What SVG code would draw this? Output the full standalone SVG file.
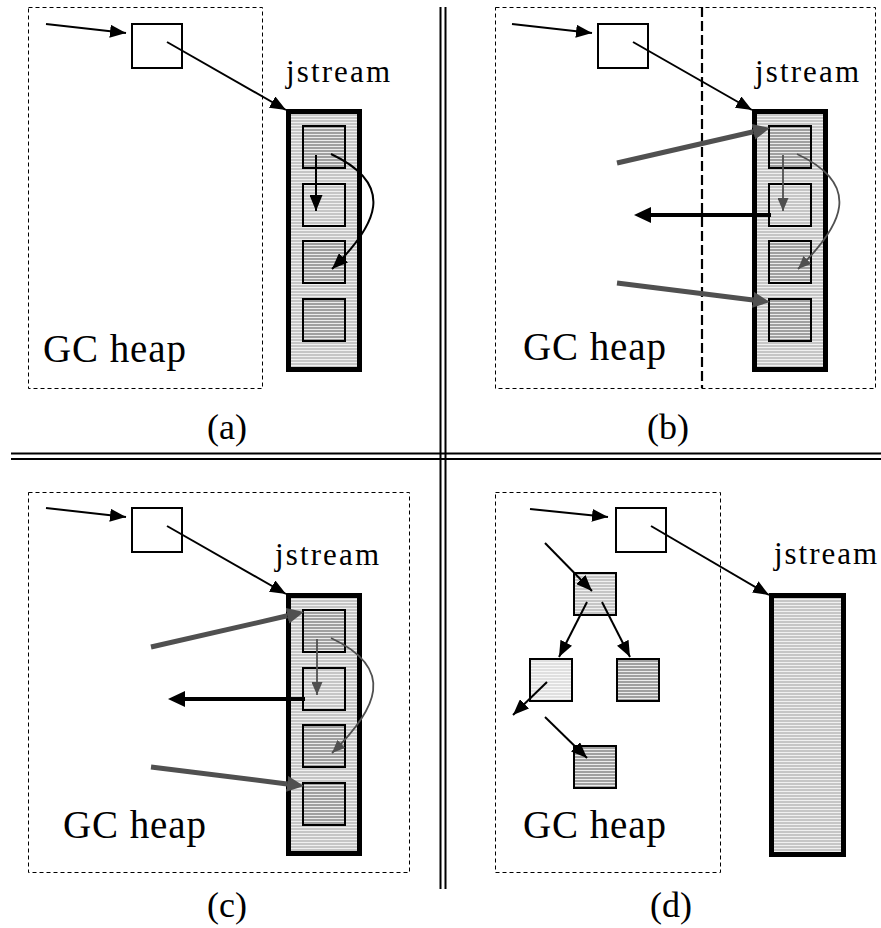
<svg xmlns="http://www.w3.org/2000/svg" width="881" height="928" viewBox="0 0 881 928">
<style>
.dash{fill:none;stroke:#000;stroke-width:1;stroke-dasharray:4 3}
.dashb{fill:none;stroke:#000;stroke-width:2.2;stroke-dasharray:10 4}
.obj{fill:#fff;stroke:#000;stroke-width:2}
.js{fill:url(#pl);stroke:#000;stroke-width:5}
.cd{fill:url(#pd);stroke:#000;stroke-width:2}
.cl{fill:url(#pl);stroke:#000;stroke-width:2}
.cv{fill:url(#pv);stroke:#000;stroke-width:2}
.a{fill:none;stroke:#000;stroke-width:2;marker-end:url(#mA)}
.g{fill:none;stroke:#505050;stroke-width:1.8;marker-end:url(#mG)}
.gt{fill:none;stroke:#505050;stroke-width:5;marker-end:url(#mGT)}
.bt{fill:none;stroke:#000;stroke-width:4;marker-end:url(#mBT)}
.sep{stroke:#000;stroke-width:2;fill:none}
text{font-family:"Liberation Serif","Times New Roman",serif;fill:#000}
.t1{font-size:31px}
.t2{font-size:39px}
.t3{font-size:36px;text-anchor:middle}
</style>
<defs>
<pattern id="pl" width="4" height="3" patternUnits="userSpaceOnUse"><rect width="4" height="3" fill="#c6c6c6"/><rect y="2" width="4" height="1" fill="#f0f0f0"/></pattern>
<pattern id="pd" width="4" height="3" patternUnits="userSpaceOnUse"><rect width="4" height="3" fill="#a0a0a0"/><rect y="2" width="4" height="1" fill="#ececec"/></pattern>
<pattern id="pv" width="4" height="3" patternUnits="userSpaceOnUse"><rect width="4" height="3" fill="#e0e0e0"/><rect y="2" width="4" height="1" fill="#f8f8f8"/></pattern>
<marker id="mA" markerUnits="userSpaceOnUse" markerWidth="16" markerHeight="13" refX="16" refY="6.5" orient="auto"><path d="M0,0 L16,6.5 L0,13 z" fill="#000"/></marker>
<marker id="mG" markerUnits="userSpaceOnUse" markerWidth="13" markerHeight="11" refX="13" refY="5.5" orient="auto"><path d="M0,0 L13,5.5 L0,11 z" fill="#505050"/></marker>
<marker id="mGT" markerUnits="userSpaceOnUse" markerWidth="17" markerHeight="16" refX="0" refY="8" orient="auto"><path d="M0,0 L17,8 L0,16 z" fill="#505050"/></marker>
<marker id="mBT" markerUnits="userSpaceOnUse" markerWidth="17" markerHeight="16" refX="0" refY="8" orient="auto"><path d="M0,0 L17,8 L0,16 z" fill="#000"/></marker>
</defs>
<rect width="881" height="928" fill="#fff"/>

<g id="separators">
<line class="sep" x1="440.5" y1="7" x2="440.5" y2="889"/>
<line class="sep" x1="445.5" y1="7" x2="445.5" y2="889"/>
<line class="sep" x1="11" y1="453.5" x2="881" y2="453.5"/>
<line class="sep" x1="11" y1="459" x2="881" y2="459"/>
</g>

<!-- Panel a -->
<g id="panel-a">
<g id="a-heap"><rect class="dash" x="28.5" y="7.5" width="234" height="381"/><text class="t2" x="43" y="362" textLength="143">GC heap</text></g>
<g id="a-root"><rect class="obj" x="132" y="24" width="50" height="44"/></g>
<g id="a-jstream"><text class="t1" x="286" y="82" textLength="104">jstream</text>
<rect class="js" x="288.5" y="111.5" width="71" height="258"/>
<rect class="cd" x="303" y="126" width="42" height="42"/>
<rect class="cl" x="303" y="184" width="42" height="42"/>
<rect class="cd" x="303" y="241" width="42" height="42"/>
<rect class="cd" x="303" y="299" width="42" height="42"/></g>
<text class="t3" x="227" y="439">(a)</text>
</g>

<!-- Panel b -->
<g id="panel-b">
<g id="b-heap"><rect class="dash" x="495.5" y="7.5" width="380" height="381"/>
<line class="dashb" x1="702" y1="7" x2="702" y2="388"/>
<text class="t2" x="523" y="360" textLength="143">GC heap</text></g>
<g id="b-root"><rect class="obj" x="598" y="24" width="50" height="44"/></g>
<g id="b-jstream"><text class="t1" x="755" y="82" textLength="104">jstream</text>
<rect class="js" x="754.5" y="111.5" width="71" height="258"/>
<rect class="cd" x="769" y="126" width="42" height="42"/>
<rect class="cl" x="769" y="184" width="42" height="42"/>
<rect class="cd" x="769" y="241" width="42" height="42"/>
<rect class="cd" x="769" y="299" width="42" height="42"/></g>
<text class="t3" x="668" y="439">(b)</text>
</g>

<!-- Panel c -->
<g id="panel-c">
<g id="c-heap"><rect class="dash" x="28.5" y="492.5" width="381" height="380"/><text class="t2" x="63" y="838" textLength="143">GC heap</text></g>
<g id="c-root"><rect class="obj" x="132" y="508" width="50" height="44"/></g>
<g id="c-jstream"><text class="t1" x="275" y="565" textLength="104">jstream</text>
<rect class="js" x="288.5" y="595.5" width="71" height="258"/>
<rect class="cd" x="303" y="610" width="42" height="42"/>
<rect class="cl" x="303" y="668" width="42" height="42"/>
<rect class="cd" x="303" y="725" width="42" height="42"/>
<rect class="cd" x="303" y="783" width="42" height="42"/></g>
<text class="t3" x="227" y="917">(c)</text>
</g>

<!-- Panel d -->
<g id="panel-d">
<g id="d-heap"><rect class="dash" x="495.5" y="492.5" width="225" height="380"/><text class="t2" x="523" y="838" textLength="143">GC heap</text></g>
<g id="d-root"><rect class="obj" x="616" y="508" width="50" height="44"/></g>
<g id="d-obj1"><rect class="cl" x="574" y="573" width="42" height="42"/></g>
<g id="d-obj2"><rect class="cv" x="530" y="659" width="42" height="42"/></g>
<g id="d-obj3"><rect class="cd" x="617" y="659" width="42" height="42"/></g>
<g id="d-obj4"><rect class="cd" x="574" y="746" width="42" height="42"/></g>
<g id="d-jstream"><text class="t1" x="774" y="564" textLength="103">jstream</text>
<rect class="js" x="771.5" y="595.5" width="72" height="259"/></g>
<text class="t3" x="671" y="917">(d)</text>
</g>

<g id="connectors">
<!-- a -->
<line class="a" x1="46" y1="24" x2="126" y2="33"/>
<line class="a" x1="167" y1="42" x2="286" y2="110"/>
<line class="a" x1="316" y1="155" x2="316" y2="211"/>
<path class="a" d="M331,154 C397,185 377,225 332,269"/>
<!-- b -->
<line class="a" x1="512" y1="24" x2="592" y2="33"/>
<line class="a" x1="633" y1="42" x2="752" y2="110"/>
<line class="gt" x1="617" y1="163" x2="753.4" y2="131.8"/>
<line class="gt" x1="617" y1="283" x2="753.1" y2="299.9"/>
<line class="bt" x1="771" y1="215" x2="651" y2="215"/>
<line class="g" x1="783" y1="155" x2="783" y2="211"/>
<path class="g" d="M797,154 C863,185 843,225 798,269"/>
<!-- c -->
<line class="a" x1="46" y1="508" x2="126" y2="517"/>
<line class="a" x1="167" y1="526" x2="286" y2="594"/>
<line class="gt" x1="151" y1="647" x2="287.4" y2="615.8"/>
<line class="gt" x1="151" y1="767" x2="287.1" y2="783.9"/>
<line class="bt" x1="305" y1="699" x2="185" y2="699"/>
<line class="g" x1="317" y1="639" x2="317" y2="695"/>
<path class="g" d="M331,638 C397,669 377,709 332,753"/>
<!-- d -->
<line class="a" x1="530" y1="509" x2="608" y2="517"/>
<line class="a" x1="651" y1="526" x2="769" y2="595"/>
<line class="a" x1="545" y1="543" x2="592" y2="591"/>
<line class="a" x1="587" y1="602" x2="559" y2="657"/>
<line class="a" x1="602" y1="602" x2="630" y2="657"/>
<line class="a" x1="547" y1="682" x2="513" y2="715"/>
<line class="a" x1="545" y1="717" x2="587" y2="758"/>
</g>
</svg>
